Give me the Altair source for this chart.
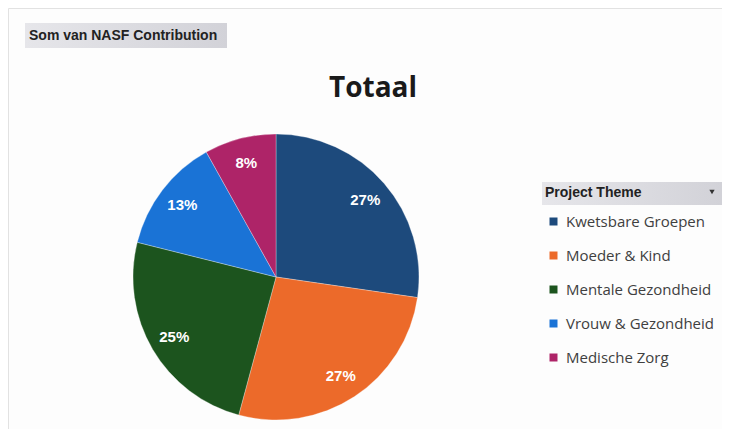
import altair as alt
import pandas as pd

themes = ["Kwetsbare Groepen", "Moeder & Kind", "Mentale Gezondheid", "Vrouw & Gezondheid", "Medische Zorg"]
values = [27.3, 26.9, 24.7, 13.0, 8.1]
labels = ["27%", "27%", "25%", "13%", "8%"]
colors = ["#1d4a7c", "#ec6a2a", "#1c541e", "#1a73d6", "#ae2468"]

df = pd.DataFrame({"theme": themes, "value": values, "label": labels, "idx": list(range(len(themes)))})

CX, CY = 268, 269

color_scale = alt.Scale(domain=themes, range=colors)

base = alt.Chart(df).encode(
    theta=alt.Theta("value:Q", stack=True),
    order=alt.Order("idx:Q"),
)

pie = base.mark_arc(radius=143, stroke="#ffffff", strokeWidth=0.3).encode(
    x=alt.value(CX), y=alt.value(CY),
    color=alt.Color("theme:N", scale=color_scale, sort=themes,
                    legend=alt.Legend(title=None, orient="none", legendX=538, legendY=206,
                                      symbolType="square", symbolSize=64, symbolStrokeWidth=0,
                                      labelFontSize=15, labelFont="Open Sans", labelColor="#404040",
                                      rowPadding=18, padding=0, labelOffset=5)),
)

pie_text = base.mark_text(radius=118, font="Liberation Sans", fontWeight="bold", fontSize=15, color="white").encode(
    x=alt.value(CX), y=alt.value(CY),
    text="label:N",
)

grad = alt.Gradient(gradient="linear", x1=0, y1=0, x2=1, y2=0,
                    stops=[alt.GradientStop(color="#e6e6ea", offset=0), alt.GradientStop(color="#d2d2d8", offset=1)])

one = pd.DataFrame({"t": ["Som van NASF Contribution"]})
box1 = alt.Chart(one).mark_rect(fill=grad).encode(
    x=alt.value(17), x2=alt.value(219), y=alt.value(15), y2=alt.value(40))
txt1 = alt.Chart(one).mark_text(align="left", baseline="middle", font="Liberation Sans",
                                fontWeight="bold", fontSize=14, color="#222222").encode(
    x=alt.value(21), y=alt.value(28), text="t:N")

two = pd.DataFrame({"t": ["Project Theme"]})
box2 = alt.Chart(two).mark_rect(fill=grad).encode(
    x=alt.value(534), x2=alt.value(714), y=alt.value(174), y2=alt.value(197))
txt2 = alt.Chart(two).mark_text(align="left", baseline="middle", font="Liberation Sans",
                                fontWeight="bold", fontSize=14, color="#222222").encode(
    x=alt.value(537), y=alt.value(185), text="t:N")
tri = alt.Chart(two).mark_point(shape="triangle-down", filled=True, size=28, color="#333333", opacity=1).encode(
    x=alt.value(704), y=alt.value(184))

three = pd.DataFrame({"t": ["Totaal"]})
title = alt.Chart(three).mark_text(align="center", baseline="middle", font="Open Sans",
                                   fontWeight="bold", fontSize=28, color="#1a1a1a").encode(
    x=alt.value(365), y=alt.value(81), text="t:N")

chart = alt.layer(box1, txt1, box2, txt2, tri, title, pie, pie_text).properties(
    width=714, height=421, autosize="none", padding=0, background="#fdfdfd"
).configure_view(stroke="#e2e2e2")

chart.save("out.html", embed_options={"renderer": "svg", "actions": False})
